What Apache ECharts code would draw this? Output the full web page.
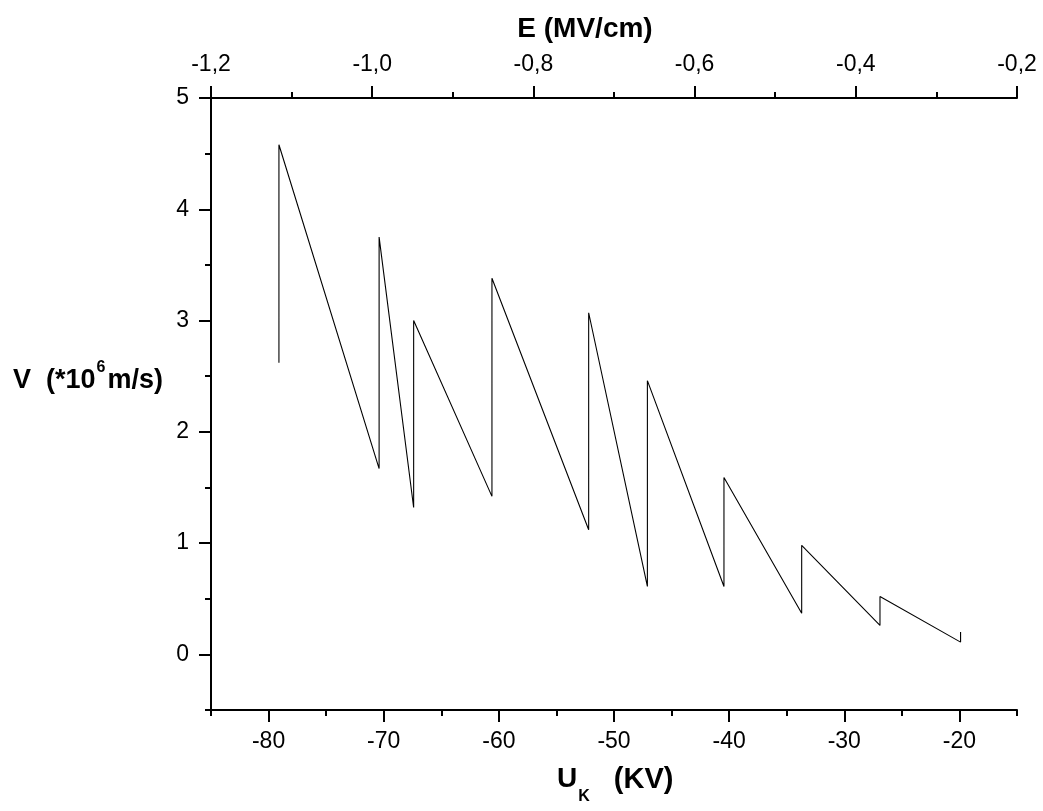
<!DOCTYPE html>
<html>
<head>
<meta charset="utf-8">
<script src="https://cdn.jsdelivr.net/npm/echarts@6/dist/echarts.min.js"></script>
<style>
  html, body { margin: 0; padding: 0; background: #fff; }
  #chart { width: 1043px; height: 811px; }
</style>
</head>
<body>
<div id="chart"></div>
<script>
// Data
const uK = [-79.1, -79.1, -70.4, -70.4, -67.4, -67.4, -60.6, -60.6, -52.2, -52.2,
            -47.1, -47.1, -40.45, -40.45, -33.7, -33.7, -26.9, -26.9, -19.9, -19.9];
const velocity = [2.62, 4.58, 1.67, 3.75, 1.32, 3.0, 1.42, 3.38, 1.12, 3.07,
                  0.61, 2.46, 0.61, 1.59, 0.37, 0.98, 0.26, 0.52, 0.11, 0.2];

// Tick values
const bottomMajor = [-80, -70, -60, -50, -40, -30, -20];
const bottomMinor = [-85, -75, -65, -55, -45, -35, -25, -15];
const topMajor = [-1.2, -1.0, -0.8, -0.6, -0.4, -0.2];
const topMinor = [-1.1, -0.9, -0.7, -0.5, -0.3];
const yMajor = [0, 1, 2, 3, 4, 5];
const yMinor = [-0.5, 0.5, 1.5, 2.5, 3.5, 4.5];

const FONT = 'Liberation Sans, Arial, sans-serif';
const lineStyle = { color: '#000', width: 2 };
const labelStyle = { color: '#000', fontSize: 23, fontFamily: FONT };

const chart = echarts.init(document.getElementById('chart'), null, { renderer: 'canvas' });

const seriesData = uK.map((x, i) => [x, velocity[i]]);

chart.setOption({
  animation: false,
  backgroundColor: '#fff',
  grid: { left: 211, right: 26, top: 98, bottom: 101, containLabel: false, outerBoundsMode: 'none' },
  xAxis: [
    {
      type: 'value', position: 'bottom', min: -85, max: -15,
      axisLine: { show: true, onZero: false, lineStyle: lineStyle },
      axisTick: { show: true, customValues: bottomMajor, length: 12, lineStyle: lineStyle },
      axisLabel: { show: true, customValues: bottomMajor, margin: 20, ...labelStyle },
      splitLine: { show: false }
    },
    {
      type: 'value', position: 'bottom', min: -85, max: -15,
      axisLine: { show: false, onZero: false },
      axisTick: { show: true, customValues: bottomMinor, length: 6, lineStyle: lineStyle },
      axisLabel: { show: false },
      splitLine: { show: false }
    },
    {
      type: 'value', position: 'top', min: -1.2, max: -0.2,
      axisLine: { show: true, onZero: false, lineStyle: lineStyle },
      axisTick: { show: true, customValues: topMajor, length: 12, lineStyle: lineStyle },
      axisLabel: {
        show: true, customValues: topMajor, margin: 22, ...labelStyle,
        formatter: v => v.toFixed(1).replace('.', ',')
      },
      splitLine: { show: false }
    },
    {
      type: 'value', position: 'top', min: -1.2, max: -0.2,
      axisLine: { show: false, onZero: false },
      axisTick: { show: true, customValues: topMinor, length: 6, lineStyle: lineStyle },
      axisLabel: { show: false },
      splitLine: { show: false }
    }
  ],
  yAxis: [
    {
      type: 'value', position: 'left', min: -0.5, max: 5,
      axisLine: { show: true, onZero: false, lineStyle: lineStyle },
      axisTick: { show: true, customValues: yMajor, length: 12, lineStyle: lineStyle },
      axisLabel: { show: true, customValues: yMajor, margin: 22, ...labelStyle },
      splitLine: { show: false }
    },
    {
      type: 'value', position: 'left', min: -0.5, max: 5,
      axisLine: { show: false, onZero: false },
      axisTick: { show: true, customValues: yMinor, length: 6, lineStyle: lineStyle },
      axisLabel: { show: false },
      splitLine: { show: false }
    }
  ],
  series: [
    {
      type: 'line',
      xAxisIndex: 0,
      yAxisIndex: 0,
      data: seriesData,
      symbol: 'none',
      lineStyle: { color: '#000', width: 1.1 },
      itemStyle: { color: '#000' }
    }
  ],
  graphic: [
    {
      type: 'text', x: 585, y: 29,
      style: {
        text: 'E (MV/cm)', fill: '#000', font: 'bold 28px ' + FONT,
        align: 'center', verticalAlign: 'middle'
      }
    },
    {
      type: 'text', x: 13, y: 377,
      style: {
        text: '{a|V  (*10}{s|6}{a|m/s)}',
        align: 'left', verticalAlign: 'middle',
        rich: {
          a: { fontSize: 27, fontWeight: 'bold', fontFamily: FONT, fill: '#000', lineHeight: 34, verticalAlign: 'bottom' },
          s: { fontSize: 16, fontWeight: 'bold', fontFamily: FONT, fill: '#000', lineHeight: 34, verticalAlign: 'top', padding: [0, 2, 0, 1] }
        }
      }
    },
    {
      type: 'text', x: 557, y: 785,
      style: {
        text: '{a|U}{s|K}{b|(KV)}',
        align: 'left', verticalAlign: 'middle',
        rich: {
          a: { fontSize: 28, fontWeight: 'bold', fontFamily: FONT, fill: '#000', lineHeight: 40, verticalAlign: 'top' },
          s: { fontSize: 16, fontWeight: 'bold', fontFamily: FONT, fill: '#000', lineHeight: 40, verticalAlign: 'bottom', padding: [0, 0, 0, 1] },
          b: { fontSize: 29, fontWeight: 'bold', fontFamily: FONT, fill: '#000', lineHeight: 40, verticalAlign: 'top', padding: [0, 0, 0, 24] }
        }
      }
    }
  ]
});
</script>
</body>
</html>
